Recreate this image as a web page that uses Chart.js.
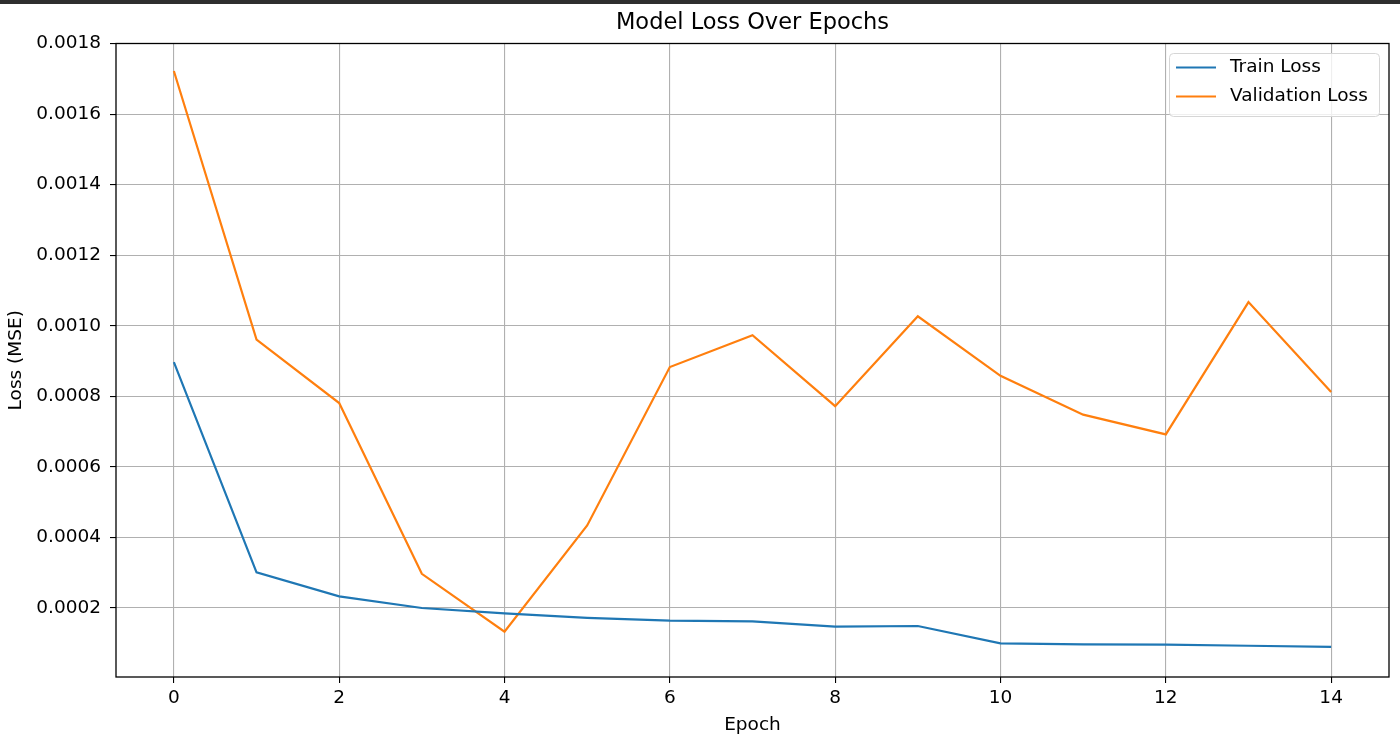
<!DOCTYPE html>
<html>
<head>
<meta charset="utf-8">
<script src="https://cdn.jsdelivr.net/npm/chart.js@4.4.1/dist/chart.umd.min.js"></script>
<style>
  html, body { margin: 0; padding: 0; background: #fff; }
  #wrap { position: relative; width: 1400px; height: 745px; }
  #topbar { position: absolute; left: 0; top: 0; width: 1400px; height: 4px; background: #2e2e2e; }
</style>
</head>
<body>
<div id="wrap">
  <canvas id="lossChart" width="1400" height="745"></canvas>
  <div id="topbar"></div>
</div>
<script>
// Epochs und Loss-Werte
const epochs = [0, 1, 2, 3, 4, 5, 6, 7, 8, 9, 10, 11, 12, 13, 14];
const trainLoss = [0.000897, 0.000301, 0.000233, 0.000200, 0.000185, 0.000172, 0.000164, 0.000162,
                   0.000147, 0.000149, 0.000100, 0.000097, 0.000096, 0.000093, 0.000090];
const valLoss = [0.001722, 0.000961, 0.000781, 0.000297, 0.000133, 0.000434, 0.000883, 0.000973,
                 0.000772, 0.001027, 0.000858, 0.000748, 0.000692, 0.001067, 0.000812];
const xTicks = [0, 2, 4, 6, 8, 10, 12, 14];
const yTicks = [0.0002, 0.0004, 0.0006, 0.0008, 0.0010, 0.0012, 0.0014, 0.0016, 0.0018];
const chartTitle = 'Model Loss Over Epochs';

const FONT = "'DejaVu Sans', sans-serif";

// Titel zentriert über dem Plotbereich (wie bei matplotlib)
const titlePlugin = {
    id: 'mplTitle',
    afterDraw(chart) {
        const { ctx, chartArea: a } = chart;
        ctx.save();
        ctx.font = '22.5px ' + FONT;
        ctx.fillStyle = '#000';
        ctx.textAlign = 'center';
        ctx.textBaseline = 'middle';
        ctx.fillText(chartTitle, (a.left + a.right) / 2, 23);
        ctx.restore();
    }
};

// Rahmen um den Plotbereich (alle vier Seiten)
const framePlugin = {
    id: 'frame',
    afterDatasetsDraw(chart) {
        const { ctx, chartArea: a } = chart;
        ctx.save();
        ctx.strokeStyle = '#000';
        ctx.lineWidth = 1.3;
        ctx.strokeRect(a.left, a.top, a.right - a.left, a.bottom - a.top);
        ctx.restore();
    }
};

// Legende im matplotlib-Stil oben rechts
const legendPlugin = {
    id: 'mplLegend',
    afterDraw(chart) {
        const { ctx } = chart;
        const x0 = 1169, y0 = 53, w = 210, h = 63, r = 4;
        ctx.save();
        ctx.beginPath();
        ctx.roundRect(x0 + 0.5, y0 + 0.5, w, h, r);
        ctx.fillStyle = 'rgba(255,255,255,0.8)';
        ctx.fill();
        ctx.strokeStyle = '#d6d6d6';
        ctx.lineWidth = 1;
        ctx.stroke();
        ctx.font = '18.5px ' + FONT;
        ctx.textBaseline = 'middle';
        ctx.textAlign = 'left';
        chart.data.datasets.forEach(function(ds, i) {
            const y = 67.5 + i * 29;
            ctx.beginPath();
            ctx.moveTo(1176, y);
            ctx.lineTo(1216, y);
            ctx.strokeStyle = ds.borderColor;
            ctx.lineWidth = 2.2;
            ctx.stroke();
            ctx.fillStyle = '#000';
            ctx.fillText(ds.label, 1230, y);
        });
        ctx.restore();
    }
};

const chartData = {
    datasets: [
        {
            label: 'Train Loss',
            data: epochs.map(function(e, i) { return { x: e, y: trainLoss[i] }; }),
            borderColor: '#1f77b4',
            borderWidth: 2.2,
            pointRadius: 0,
            tension: 0
        },
        {
            label: 'Validation Loss',
            data: epochs.map(function(e, i) { return { x: e, y: valLoss[i] }; }),
            borderColor: '#ff7f0e',
            borderWidth: 2.2,
            pointRadius: 0,
            tension: 0
        }
    ]
};

const config = {
    type: 'line',
    data: chartData,
    options: {
        responsive: false,
        animation: false,
        layout: { padding: { left: 0, right: 11, top: 43.5, bottom: 0 } },
        plugins: {
            legend: { display: false },
            tooltip: { enabled: false },
            title: { display: false }
        },
        scales: {
            x: {
                type: 'linear',
                min: -0.7,
                max: 14.7,
                afterBuildTicks: function(scale) {
                    scale.ticks = xTicks.map(function(v) { return { value: v }; });
                },
                afterFit: function(scale) { scale.height = 68; },
                ticks: {
                    color: '#000',
                    padding: 4,
                    maxRotation: 0,
                    font: { family: FONT, size: 18.5 },
                    callback: function(v) { return String(v); }
                },
                grid: { color: '#b0b0b0', lineWidth: 1.1, tickColor: '#000', tickLength: 6 },
                border: { display: false },
                title: {
                    display: true,
                    text: 'Epoch',
                    color: '#000',
                    font: { family: FONT, size: 18.5, lineHeight: 1.2 },
                    padding: { top: 0, bottom: 9 }
                }
            },
            y: {
                type: 'linear',
                min: 0.0000045,
                max: 0.0018,
                afterBuildTicks: function(scale) {
                    scale.ticks = yTicks.map(function(v) { return { value: v }; });
                },
                afterFit: function(scale) { scale.width = 116; },
                ticks: {
                    color: '#000',
                    padding: 9,
                    font: { family: FONT, size: 18.5 },
                    callback: function(v) { return Number(v).toFixed(4); }
                },
                grid: { color: '#b0b0b0', lineWidth: 1.1, tickColor: '#000', tickLength: 6 },
                border: { display: false },
                title: {
                    display: true,
                    text: 'Loss (MSE)',
                    color: '#000',
                    font: { family: FONT, size: 18.5, lineHeight: 1.2 },
                    padding: { top: 5, bottom: 0 }
                }
            }
        }
    },
    plugins: [framePlugin, legendPlugin, titlePlugin]
};

new Chart(document.getElementById('lossChart').getContext('2d'), config);
</script>
</body>
</html>
